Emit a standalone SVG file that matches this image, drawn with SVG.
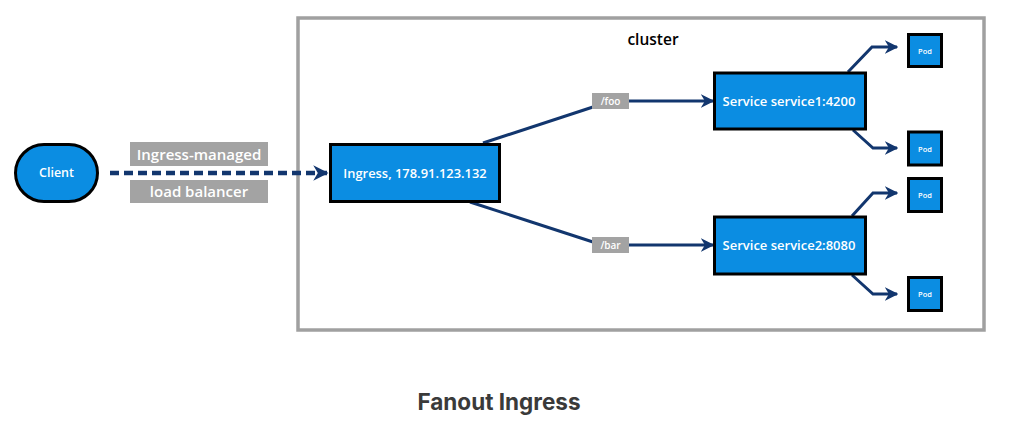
<svg xmlns="http://www.w3.org/2000/svg" width="1015" height="424" viewBox="0 0 1015 424">
<defs>
<style>
.node{fill:#0b8de2;stroke:#000;stroke-width:3}
.wt{fill:#fff;font-family:"Open Sans","Noto Sans",sans-serif;font-weight:600;text-anchor:middle;dominant-baseline:central}
.lbl{fill:#a3a3a3}
.edge{fill:none;stroke:#12366e;stroke-width:3}
</style>
<marker id="ah" viewBox="0 0 10 10" refX="9" refY="5" markerWidth="4.5" markerHeight="4.5" orient="auto" markerUnits="strokeWidth">
<path d="M0,0 L10,5 L0,10 L3,5 Z" fill="#12366e"/>
</marker>
<marker id="ah2" viewBox="0 0 10 10" refX="9" refY="5" markerWidth="3.4" markerHeight="3.4" orient="auto" markerUnits="strokeWidth">
<path d="M0,0 L10,5 L0,10 L3,5 Z" fill="#12366e"/>
</marker>
</defs>
<rect width="1015" height="424" fill="#fff"/>
<g id="cluster">
<rect x="298" y="18" width="686" height="312" fill="#fff" stroke="#a0a0a0" stroke-width="3.5"/>
<text x="653" y="39" font-family="'Open Sans','Noto Sans',sans-serif" font-size="15.5" font-weight="600" text-anchor="middle" dominant-baseline="central" fill="#000">cluster</text>
</g>
<g id="connectors">
<line x1="110" y1="173" x2="327" y2="173" stroke="#12366e" stroke-width="4.5" stroke-dasharray="9 5" marker-end="url(#ah2)"/>
<polyline class="edge" points="483,143 593,107"/>
<polyline class="edge" points="629,101 713,101" marker-end="url(#ah)"/>
<polyline class="edge" points="470,202 593,242"/>
<polyline class="edge" points="629,245 713,245" marker-end="url(#ah)"/>
<polyline class="edge" points="848,72 872,47 897,47" marker-end="url(#ah)"/>
<polyline class="edge" points="853,130 873,148 897,148" marker-end="url(#ah)"/>
<polyline class="edge" points="852,216 873,193 897,193" marker-end="url(#ah)"/>
<polyline class="edge" points="852,275 873,294 897,294" marker-end="url(#ah)"/>
</g>
<g id="label-ingress-managed">
<rect class="lbl" x="130" y="142" width="138" height="24"/>
<text class="wt" x="199" y="154" font-size="15">Ingress-managed</text>
</g>
<g id="label-load-balancer">
<rect class="lbl" x="130" y="180" width="138" height="23"/>
<text class="wt" x="199" y="191" font-size="15">load balancer</text>
</g>
<g id="label-foo">
<rect class="lbl" x="592" y="93" width="37" height="16"/>
<text class="wt" x="610.5" y="101" font-size="10">/foo</text>
</g>
<g id="label-bar">
<rect class="lbl" x="592" y="237" width="37" height="16"/>
<text class="wt" x="610.5" y="245" font-size="10">/bar</text>
</g>
<g id="client">
<rect class="node" x="15.5" y="144.5" width="82" height="57" rx="28.5" ry="28.5"/>
<text class="wt" x="56.5" y="172.5" font-size="12.5">Client</text>
</g>
<g id="ingress">
<rect class="node" x="330.5" y="144.5" width="169" height="57"/>
<text class="wt" x="415" y="172.5" font-size="12.9">Ingress, 178.91.123.132</text>
</g>
<g id="service1">
<rect class="node" x="714.5" y="73" width="151" height="56"/>
<text class="wt" x="789" y="100.5" font-size="13">Service service1:4200</text>
</g>
<g id="service2">
<rect class="node" x="714.5" y="217" width="151" height="57"/>
<text class="wt" x="789" y="245" font-size="13">Service service2:8080</text>
</g>
<g id="pod1">
<rect class="node" x="908.5" y="34.5" width="33" height="32"/>
<text class="wt" x="925" y="50.5" font-size="7.5">Pod</text>
</g>
<g id="pod2">
<rect class="node" x="908.5" y="132" width="33" height="33"/>
<text class="wt" x="925" y="148.5" font-size="7.5">Pod</text>
</g>
<g id="pod3">
<rect class="node" x="908.5" y="178.5" width="33" height="33"/>
<text class="wt" x="925" y="195" font-size="7.5">Pod</text>
</g>
<g id="pod4">
<rect class="node" x="908.5" y="277.5" width="33" height="33"/>
<text class="wt" x="925" y="294" font-size="7.5">Pod</text>
</g>
<text x="499" y="401" font-family="Inter,'Liberation Sans',sans-serif" font-size="22.5" font-weight="700" fill="#3a3a3a" text-anchor="middle" dominant-baseline="central">Fanout Ingress</text>
</svg>
